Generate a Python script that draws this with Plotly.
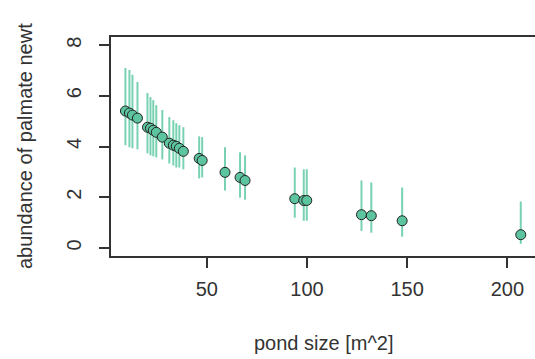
import plotly.graph_objects as go

pond_size = [9.4, 11.4, 12.9, 15.4, 20.4, 21.9, 23.3, 24.8, 27.8, 31.3, 33.3, 34.8, 36.3,
             38.3, 46.2, 47.7, 59.1, 66.6, 69.1, 93.9, 98.4, 99.9, 127.2, 132.1, 147.5, 206.7]
fit = [5.40, 5.32, 5.24, 5.12, 4.76, 4.72, 4.64, 4.56, 4.37, 4.13, 4.05, 4.01, 3.93,
       3.81, 3.53, 3.45, 2.98, 2.78, 2.66, 1.94, 1.87, 1.87, 1.31, 1.27, 1.07, 0.52]
upper = [7.10, 7.02, 6.83, 6.55, 6.11, 5.95, 5.83, 5.63, 5.44, 5.16, 5.04, 4.92, 4.84,
         4.76, 4.40, 4.37, 3.97, 3.77, 3.65, 3.17, 3.10, 3.10, 2.66, 2.58, 2.38, 1.83]
lower = [4.05, 3.97, 3.93, 3.89, 3.73, 3.65, 3.61, 3.57, 3.49, 3.33, 3.25, 3.17, 3.17,
         3.10, 2.74, 2.78, 2.26, 1.98, 1.90, 1.19, 1.07, 1.07, 0.67, 0.60, 0.44, 0.16]

x_ticks = [50, 100, 150, 200]
y_ticks = [0, 2, 4, 6, 8]
x_title = "pond size [m^2]"
y_title = "abundance of palmate newt"

FONT = "Liberation Sans, Arial, sans-serif"
INK = "#333333"

# plot area in pixels
L, R, T, B = 111, 535, 37, 256
W, H = 535, 359

fig = go.Figure()
fig.add_trace(go.Scatter(
    x=pond_size, y=fit, mode="markers",
    marker=dict(size=10, color="#5cc49f", line=dict(color="#222222", width=1)),
    error_y=dict(type="data", symmetric=False,
                 array=[u - f for u, f in zip(upper, fit)],
                 arrayminus=[f - l for f, l in zip(fit, lower)],
                 color="rgba(105,205,170,0.9)", thickness=2, width=0),
    showlegend=False,
))

pw, ph = R - L, B - T
fig.add_annotation(text=x_title, xref="paper", yref="paper",
                   x=(323 - L) / pw, y=(B - 343) / ph, xanchor="center", yanchor="middle",
                   showarrow=False, font=dict(size=20, color=INK))
fig.add_annotation(text=y_title, xref="paper", yref="paper", textangle=-90,
                   x=(25 - L) / pw, y=(B - 146) / ph, xanchor="center", yanchor="middle",
                   showarrow=False, font=dict(size=20, color=INK))

fig.update_layout(
    width=W, height=H,
    margin=dict(l=L, r=W - R, t=T, b=H - B, autoexpand=False),
    paper_bgcolor="white", plot_bgcolor="white",
    font=dict(family=FONT, size=20, color=INK),
    xaxis=dict(range=[2.2, 213.8], tickvals=x_ticks, ticks="outside", ticklen=10,
               tickwidth=1.5, tickcolor=INK, showline=True, linecolor=INK, linewidth=1.5,
               mirror=True, showgrid=False, zeroline=False, automargin=False,
               ticklabelstandoff=4),
    yaxis=dict(range=[-0.32, 8.32], tickvals=y_ticks, ticks="outside", ticklen=10,
               tickwidth=1.5, tickcolor=INK, showline=True, linecolor=INK, linewidth=1.5,
               mirror=True, showgrid=False, zeroline=False, tickangle=-90, automargin=False,
               ticklabelstandoff=10),
)

fig.write_html("out.html")
